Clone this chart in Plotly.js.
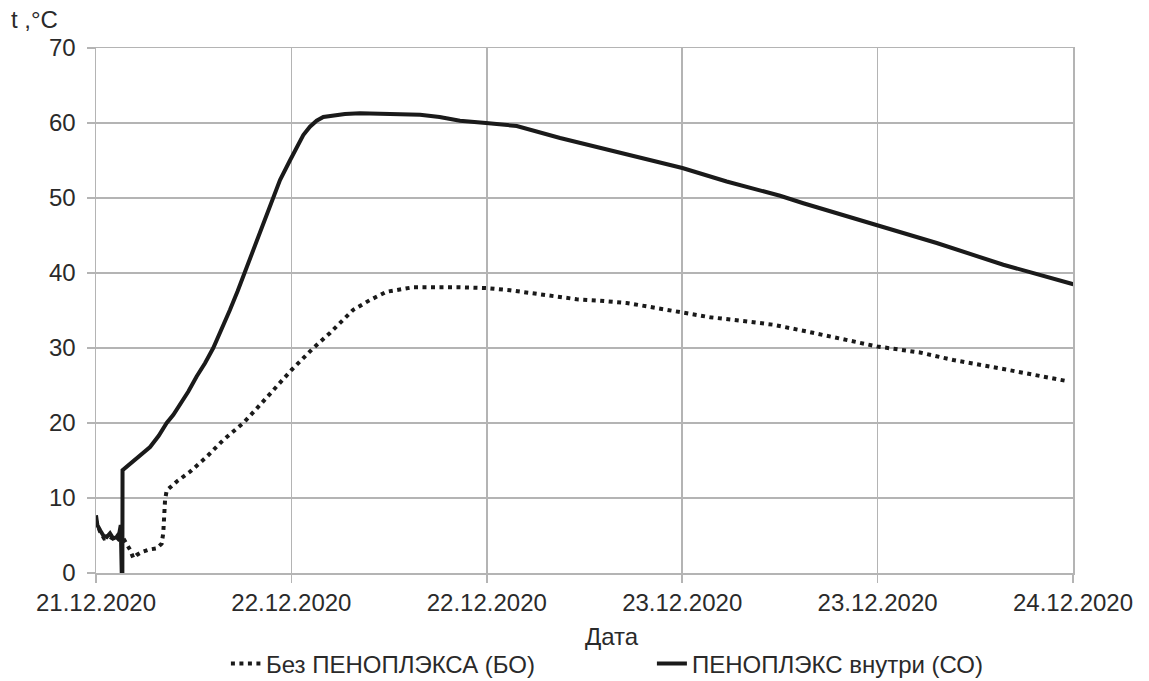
<!DOCTYPE html>
<html>
<head>
<meta charset="utf-8">
<script src="https://cdn.plot.ly/plotly-3.0.1.min.js"></script>
<style>html,body{margin:0;padding:0;background:#fff;}#chart{width:1149px;height:681px;}</style>
</head>
<body>
<div id="chart"></div>
<script>
// Hours since 21.12.2020 12:00
const hoursCO = [0, 0.08, 0.25, 0.45, 0.66, 0.86, 1.06, 1.27, 1.43, 1.52, 1.58, 1.62, 1.63, 1.89, 2.6, 3.32, 3.85, 4.34, 4.75, 5.16, 5.67, 6.18, 6.7, 7.20, 7.7, 8.23, 8.7, 9.05, 9.56, 10.07, 10.45, 10.79, 11.30, 11.91, 12.33, 12.73, 13.14, 13.55, 13.96, 14.56, 15.29, 16.21, 17.85, 19.90, 21.1, 22.35, 23.95, 25.84, 28.50, 31.57, 36.01, 38.73, 42.01, 43.44, 47.98, 51.63, 55.72, 60.02];
const tempCO  = [7.7, 6.4, 5.7, 5.0, 4.8, 5.3, 4.6, 4.8, 5.3, 6.4, 0, 0, 13.7, 14.2, 15.4, 16.8, 18.3, 20.0, 21.1, 22.4, 24.2, 26.2, 28.0, 30.0, 32.4, 35.1, 37.6, 39.6, 42.6, 45.4, 47.8, 49.8, 52.4, 55.0, 56.8, 58.4, 59.5, 60.3, 60.8, 61.0, 61.2, 61.3, 61.2, 61.1, 60.8, 60.3, 60.0, 59.6, 58.0, 56.4, 54.0, 52.2, 50.3, 49.3, 46.4, 44.0, 41.1, 38.5];

const hoursBO = [0, 0.25, 0.5, 0.86, 1.27, 1.52, 1.68, 1.89, 2.09, 2.29, 2.50, 2.81, 3.21, 3.73, 4.03, 4.13, 4.18, 4.24, 4.34, 4.96, 5.77, 6.80, 7.80, 9.05, 10.07, 10.48, 12.02, 13.35, 14.37, 15.80, 16.83, 17.85, 18.67, 19.49, 22.35, 23.95, 25.43, 27.47, 29.52, 30.95, 32.59, 34.23, 36.01, 37.71, 39.75, 41.60, 43.65, 45.49, 47.98, 50.60, 52.65, 55.72, 59.61];
const tempBO  = [7.0, 5.5, 4.6, 4.8, 4.3, 4.8, 4.6, 3.9, 3.1, 2.0, 2.4, 2.8, 3.1, 3.3, 3.9, 5.3, 7.5, 9.7, 11.0, 12.2, 13.5, 15.5, 17.7, 20.0, 22.4, 23.4, 27.1, 30.0, 32.0, 35.1, 36.4, 37.5, 37.8, 38.1, 38.1, 38.0, 37.7, 37.1, 36.5, 36.3, 36.0, 35.4, 34.8, 34.1, 33.6, 33.1, 32.2, 31.3, 30.2, 29.4, 28.4, 27.2, 25.6];

const tickLabelFormat = '%d.%m.%Y';
const yTicks = [0, 10, 20, 30, 40, 50, 60, 70];
const nameBO = 'Без ПЕНОПЛЭКСА (БО)';
const nameCO = 'ПЕНОПЛЭКС внутри (СО)';
const xTitle = 'Дата';
const yTitle = 't ,°C';

const base = Date.UTC(2020, 11, 21, 12, 0, 0);
const toMs = h => base + h * 3600000;

const FONT = 'Liberation Sans, Arial, sans-serif';
const TXT = '#2a2a2a';
const GRID = '#b4b4b4';
const FS = 24;

const traces = [
  {
    x: hoursBO.map(toMs), y: tempBO, name: nameBO, mode: 'lines', type: 'scatter',
    line: {color: '#1a1a1a', width: 4, dash: '4px,4.5px'}
  },
  {
    x: hoursCO.map(toMs), y: tempCO, name: nameCO, mode: 'lines', type: 'scatter',
    line: {color: '#1a1a1a', width: 4}
  }
];

const layout = {
  width: 1149, height: 681,
  margin: {l: 96, r: 76, t: 48, b: 108, autoexpand: false},
  paper_bgcolor: '#fff', plot_bgcolor: '#fff',
  font: {family: FONT, size: FS, color: TXT},
  showlegend: true,
  xaxis: {
    type: 'date',
    range: [toMs(0), toMs(60)],
    tick0: toMs(0), dtick: 43200000,
    tickformat: tickLabelFormat,
    automargin: false,
    showgrid: true, gridcolor: GRID, gridwidth: 1.5,
    showline: true, linecolor: GRID, linewidth: 1.5, mirror: true,
    ticks: 'outside', ticklen: 8, tickcolor: GRID, tickwidth: 1.5,
    tickfont: {family: FONT, size: FS, color: TXT},
    zeroline: false
  },
  yaxis: {
    range: [0, 70],
    tickvals: yTicks,
    automargin: false,
    showgrid: true, gridcolor: GRID, gridwidth: 1.5,
    showline: true, linecolor: GRID, linewidth: 1.5, mirror: true,
    ticks: 'outside', ticklen: 8, tickcolor: GRID, tickwidth: 1.5,
    ticklabelstandoff: 6,
    tickfont: {family: FONT, size: FS, color: TXT},
    zeroline: false
  },
  legend: {
    orientation: 'h', x: 0.569, xanchor: 'center',
    yref: 'container', y: 0.025, yanchor: 'middle',
    font: {family: FONT, size: FS, color: TXT},
    entrywidth: 381, bgcolor: 'rgba(0,0,0,0)'
  },
  annotations: [
    {text: yTitle, xref: 'paper', yref: 'paper', x: -0.089, y: 1.0, xanchor: 'left', yanchor: 'bottom',
     yshift: 13, showarrow: false, font: {family: FONT, size: FS, color: TXT}},
    {text: xTitle, xref: 'paper', yref: 'paper', x: 0.528, y: -0.12, xanchor: 'center', yanchor: 'middle',
     showarrow: false, font: {family: FONT, size: FS, color: TXT}}
  ]
};

Plotly.newPlot('chart', traces, layout, {staticPlot: true, displayModeBar: false});
</script>
</body>
</html>
